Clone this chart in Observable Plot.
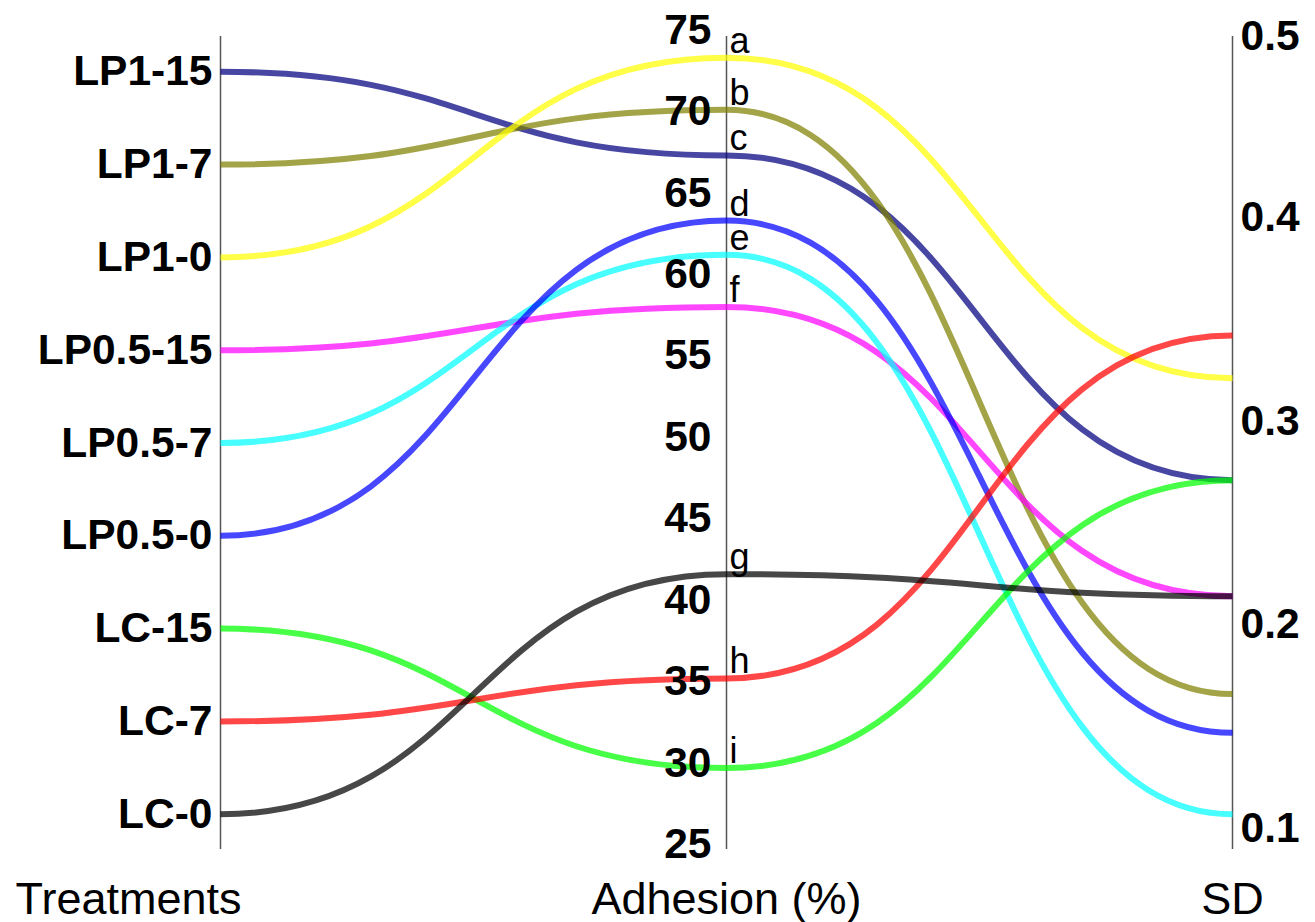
<!DOCTYPE html>
<html>
<head>
<meta charset="utf-8">
<script src="https://cdn.jsdelivr.net/npm/d3@7"></script>
<script src="https://cdn.jsdelivr.net/npm/@observablehq/plot@0.6"></script>
<style>
  html, body { margin: 0; padding: 0; background: #fff; }
  svg { display: block; }
</style>
</head>
<body>
<div id="chart"></div>
<script>
// Treatments, top to bottom on the first axis
const treatments = ["LP1-15", "LP1-7", "LP1-0", "LP0.5-15", "LP0.5-7", "LP0.5-0", "LC-15", "LC-7", "LC-0"];
// Adhesion (%) for each treatment
const adhesion = [67.3, 70.1, 73.3, 58.0, 61.2, 63.3, 29.7, 35.2, 41.6];
// Standard deviation for each treatment
const sd = [0.271, 0.166, 0.321, 0.214, 0.107, 0.147, 0.271, 0.342, 0.214];
// Significance letters shown next to the adhesion axis
const letters = ["c", "b", "a", "f", "e", "d", "i", "h", "g"];
// Line colour per treatment
const colors = ["navy", "olive", "yellow", "magenta", "cyan", "blue", "lime", "red", "black"];

// Axis names and tick labels
const dims = ["Treatments", "Adhesion (%)", "SD"];
const adhesionTicks = [25, 30, 35, 40, 45, 50, 55, 60, 65, 70, 75];
const sdTicks = [0.1, 0.2, 0.3, 0.4, 0.5];

// Each dimension is normalised onto a shared 0–1 vertical scale
const norm = {
  "Treatments": d3.scalePoint(treatments, [1, 0]).padding(0.38),
  "Adhesion (%)": d3.scaleLinear([24.7, 74.6], [0, 1]),
  "SD": d3.scaleLinear([0.0897, 0.4888], [0, 1])
};

const rows = treatments.flatMap((t, i) => [
  {dim: "Treatments", t: norm["Treatments"](t), treatment: t},
  {dim: "Adhesion (%)", t: norm["Adhesion (%)"](adhesion[i]), treatment: t},
  {dim: "SD", t: norm["SD"](sd[i]), treatment: t}
]);

const font = "'Liberation Sans', Arial, sans-serif";
const tickSize = 42.5;

const chart = Plot.plot({
  width: 1315,
  height: 922,
  marginLeft: 220,
  marginRight: 83,
  marginTop: 36,
  marginBottom: 73,
  style: {fontFamily: font, background: "#fff"},
  x: {type: "point", domain: dims, padding: 0, axis: null},
  y: {domain: [0, 1], axis: null},
  color: {domain: treatments, range: colors},
  marks: [
    // vertical axes
    Plot.ruleX(dims, {x: d => d, y1: 0, y2: 1, stroke: "#555", strokeWidth: 1.5}),
    // one smooth line per treatment across the three axes
    Plot.line(rows, {
      x: "dim", y: "t", z: "treatment", stroke: "treatment",
      curve: "bump-x", strokeWidth: 6, strokeOpacity: 0.72, strokeLinecap: "butt"
    }),
    // treatment labels
    Plot.text(treatments, {
      x: () => "Treatments", y: d => norm["Treatments"](d), text: d => d,
      textAnchor: "end", dx: -8, fontSize: tickSize, fontWeight: "bold", fill: "#000"
    }),
    // adhesion tick labels
    Plot.text(adhesionTicks, {
      x: () => "Adhesion (%)", y: d => norm["Adhesion (%)"](d), text: d => String(d),
      textAnchor: "end", dx: -15, fontSize: tickSize, fontWeight: "bold", fill: "#000"
    }),
    // SD tick labels, kept within the axis extent
    Plot.text(sdTicks, {
      x: () => "SD", y: d => Math.min(1, norm["SD"](d)), text: d => d.toFixed(1),
      textAnchor: "start", dx: 8, fontSize: tickSize, fontWeight: "bold", fill: "#000"
    }),
    // significance letters
    Plot.text(treatments, {
      x: () => "Adhesion (%)", y: (d, i) => norm["Adhesion (%)"](adhesion[i]),
      text: (d, i) => letters[i],
      textAnchor: "start", lineAnchor: "bottom", dx: 3, dy: -5,
      fontSize: 36, fill: "#000"
    }),
    // axis titles
    Plot.text(["Treatments"], {
      x: d => d, frameAnchor: "bottom", lineAnchor: "bottom", text: d => d,
      textAnchor: "end", dx: 21, dy: 64, fontSize: 45, fill: "#000"
    }),
    Plot.text(["Adhesion (%)", "SD"], {
      x: d => d, frameAnchor: "bottom", lineAnchor: "bottom", text: d => d,
      textAnchor: "middle", dy: 64, fontSize: 45, fill: "#000"
    })
  ]
});

document.getElementById("chart").appendChild(chart);
</script>
</body>
</html>
